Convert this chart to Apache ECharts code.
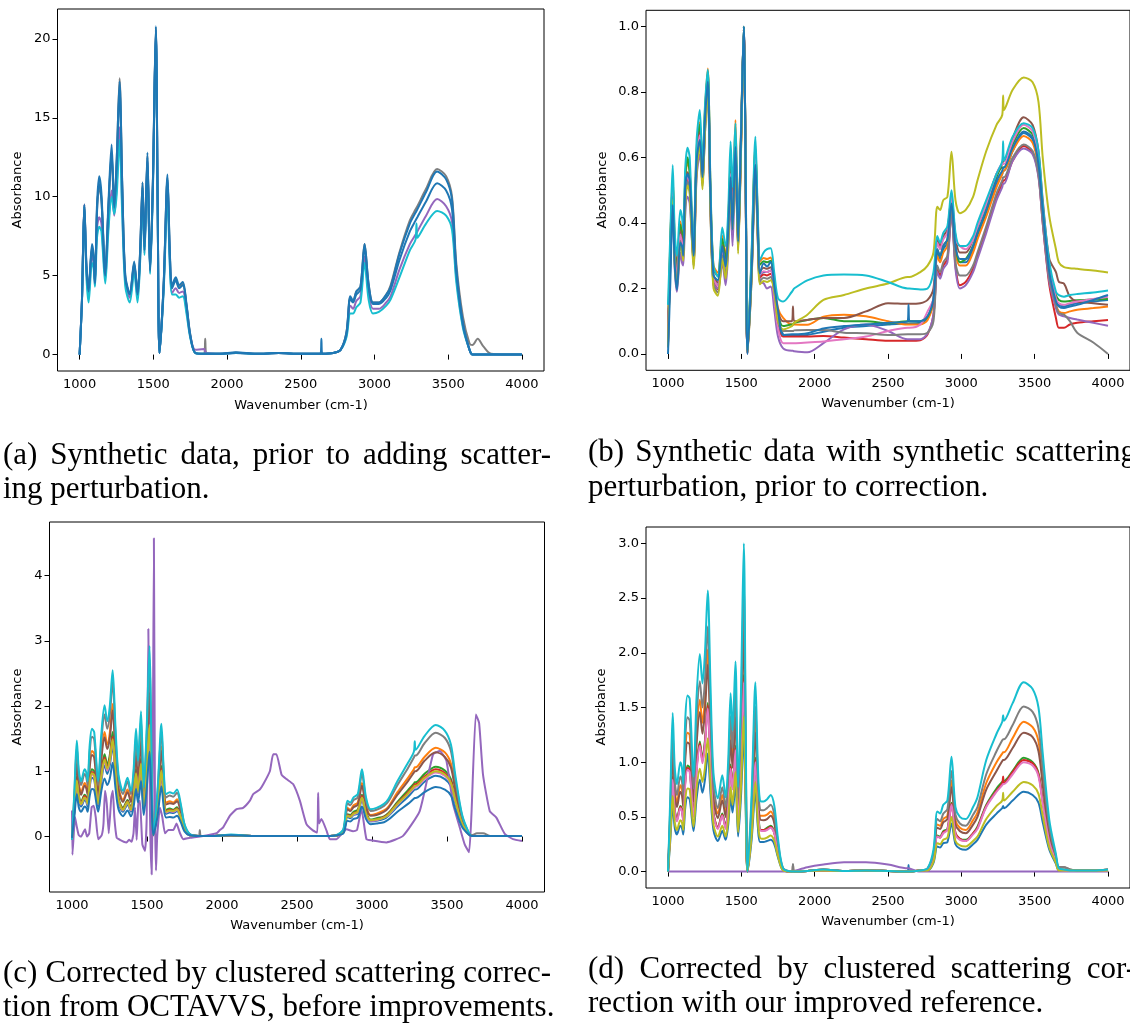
<!DOCTYPE html>
<html><head><meta charset="utf-8">
<script src="https://cdn.jsdelivr.net/npm/echarts@6/dist/echarts.min.js"></script>
<style>html,body{margin:0;padding:0;background:#fff}#chart{width:1130px;height:1023px}</style>
</head><body><div id="chart"></div>
<script>
// Shared wavenumber grid (cm-1) for the spectra
const WN = [
1000,1016,1032,1046,1061,1084,1095,1104,1118,1133,
1148,1174,1195,1217,1235,1252,1271,1290,1310,1340,
1370,1393,1410,1427,1440,1460,1478,1497,1517,1530,
1542,1570,1596,1612,1627,1652,1675,1700,1725,1750,
1785,1845,1852,1860,1950,2060,2200,2350,2500,2634,
2640,2646,2720,2770,2810,2836,2855,2877,2905,2933,
2960,2990,3030,3080,3110,3170,3240,3279,3285,3291,
3350,3425,3486,3526,3555,3600,3645,3665,3700,3740,
3790,3900,4000];

const X_TICKS = [1000,1500,2000,2500,3000,3500,4000];

// (a) synthetic spectra before scattering
const aGray = [
0,3.5,9.5,5.6,4.1,6.8,6.2,4.6,9.2,10.6,
9.8,5.1,9.2,12.6,9.3,12.4,17.5,10.4,4.9,3.8,
5.8,3.8,6.4,10.9,6.7,12.6,5.3,10.9,20.7,9.0,
0.1,4.4,11.2,6.4,4.3,4.8,4.3,4.5,3.1,1.3,
0.1,0.05,1.0,0.05,0.05,0.12,0.05,0.1,0.05,0.05,
0.05,0.05,0.1,0.3,1.4,3.6,3.4,4.0,4.3,7.0,
4.5,3.3,3.3,3.8,4.4,6.5,8.5,9.2,9.3,9.4,
10.5,11.75,11.3,10.0,5.8,2.4,0.7,0.6,1.0,0.5,
0.05,0,0];
const aPurple = [
0,3.5,9.5,5.3,3.7,6.4,5.8,4.4,8.0,8.7,
8.3,4.8,8.2,10.4,8.8,10.8,14.4,9.0,4.6,3.6,
5.5,3.6,6.0,10.2,6.4,12.2,5.2,10.6,20.5,8.8,
0.1,4.2,10.6,5.9,3.9,4.2,3.9,4.0,2.8,1.2,
0.3,0.35,0.2,0.1,0.05,0.1,0.05,0.1,0.05,0.05,
0.05,0.05,0.1,0.3,1.2,3.1,2.9,3.4,3.7,6.2,
3.9,2.9,2.9,3.3,3.7,5.4,7.0,7.6,7.7,7.8,
8.8,9.85,9.4,8.4,4.9,1.8,0.3,0,0,0,
0,0,0];
const aCyan = [
0,3.4,9.4,5.0,3.3,5.8,5.5,4.3,7.4,8.1,
7.8,4.5,7.8,10.0,8.9,10.2,13.6,8.6,4.3,3.3,
5.2,3.3,5.8,9.8,6.3,12.0,5.1,10.4,20.3,8.7,
0.1,4.0,10.0,5.6,3.8,3.8,3.6,3.7,2.6,1.1,
0.1,0.05,0.05,0.05,0.05,0.1,0.05,0.1,0.05,0.05,
0.05,0.05,0.1,0.3,1.1,2.6,2.6,3.0,3.3,5.8,
3.5,2.6,2.7,3.1,3.5,4.9,6.6,7.3,8.3,7.4,
8.3,9.1,8.8,7.9,4.6,1.7,0.3,0,0,0,
0,0,0];
const aBlueAlt = [
0,3.4,9.4,5.5,4.0,6.7,6.0,4.5,9.0,10.8,
9.8,5.0,9.2,12.8,9.3,12.0,16.8,10.2,4.8,3.8,
5.7,3.8,6.3,10.6,6.6,12.5,5.3,10.8,20.6,8.9,
0.1,4.4,11.1,6.3,4.2,4.7,4.2,4.4,3.1,1.2,
0.1,0.05,0.05,0.05,0.05,0.12,0.05,0.1,0.05,0.05,
0.05,0.05,0.1,0.3,1.3,3.5,3.3,3.8,4.1,6.8,
4.3,3.2,3.2,3.6,4.1,6.0,7.8,8.5,8.6,8.7,
9.7,10.85,10.4,9.2,5.2,1.9,0.3,0,0,0,
0,0,0];
const aBlue = [
0,3.5,9.5,5.8,4.2,7.0,6.3,4.6,9.5,11.3,
10.2,5.2,9.5,13.3,9.5,12.5,17.3,10.5,5.0,3.9,
5.9,3.9,6.5,10.9,6.8,12.8,5.4,11.0,20.8,9.0,
0.1,4.5,11.4,6.5,4.4,4.9,4.4,4.6,3.2,1.3,
0.1,0.05,0.05,0.05,0.05,0.15,0.05,0.1,0.05,0.05,
1.0,0.05,0.1,0.3,1.4,3.7,3.4,4.0,4.3,7.0,
4.5,3.3,3.3,3.8,4.3,6.4,8.3,9.0,9.1,9.2,
10.3,11.6,11.1,9.8,5.5,2.0,0.3,0,0,0,
0,0,0];

// (b) spectra with scattering, before correction
const bBlueAlt = [
.02,.30,.49,.30,.23,.36,.34,.31,.49,.54,
.52,.29,.58,.66,.53,.70,.83,.46,.23,.21,
.32,.26,.36,.55,.41,.62,.335,.63,1.0,.51,
.005,.26,.59,.38,.24,.25,.25,.255,.20,.12,
.06,.055,.055,.056,.058,.068,.08,.085,.09,.093,
.093,.093,.095,.11,.16,.31,.29,.32,.34,.45,
.32,.28,.28,.32,.36,.43,.52,.55,.56,.56,
.62,.675,.655,.575,.43,.25,.16,.15,.145,.15,
.155,.16,.165];
const bOrange = [
.09,.35,.54,.345,.275,.405,.38,.355,.53,.585,
.56,.33,.625,.708,.573,.745,.872,.50,.271,.248,
.361,.30,.40,.59,.45,.715,.376,.67,.99,.55,
.01,.30,.637,.42,.283,.293,.29,.295,.22,.14,
.11,.09,.09,.09,.089,.114,.12,.115,.10,.09,
.09,.09,.09,.104,.16,.30,.28,.31,.33,.45,
.31,.27,.27,.31,.35,.42,.51,.55,.56,.56,
.62,.666,.645,.57,.43,.24,.15,.13,.125,.13,
.135,.14,.145];
const bGreen = [
.05,.34,.53,.335,.265,.395,.37,.345,.54,.60,
.55,.32,.615,.70,.563,.735,.862,.49,.261,.238,
.351,.29,.39,.58,.44,.658,.366,.66,1.0,.54,
.01,.29,.627,.41,.273,.283,.28,.285,.20,.12,
.085,.09,.09,.095,.104,.11,.10,.10,.094,.10,
.10,.10,.10,.114,.17,.32,.30,.33,.35,.46,
.33,.28,.29,.33,.37,.44,.54,.57,.57,.57,
.64,.69,.67,.59,.45,.26,.18,.165,.16,.162,
.164,.166,.168];
const bRed = [
.03,.30,.49,.295,.225,.355,.33,.305,.48,.535,
.51,.28,.575,.658,.523,.695,.822,.45,.221,.198,
.311,.25,.35,.54,.40,.618,.326,.62,.99,.50,
.003,.25,.587,.37,.233,.243,.24,.245,.18,.09,
.053,.053,.053,.053,.053,.055,.05,.045,.04,.04,
.04,.04,.042,.06,.12,.26,.24,.27,.29,.43,
.27,.21,.22,.26,.30,.38,.48,.52,.53,.53,
.59,.635,.615,.545,.40,.21,.11,.08,.08,.09,
.095,.10,.104];
const bPurple = [
.06,.27,.45,.26,.19,.31,.28,.27,.43,.48,
.46,.28,.54,.61,.52,.674,.817,.43,.216,.20,
.277,.21,.31,.47,.33,.572,.323,.63,.99,.49,
0,.23,.55,.35,.22,.216,.20,.206,.134,.053,
.017,.01,.01,.008,.005,.033,.075,.09,.07,.045,
.045,.045,.045,.063,.12,.25,.23,.26,.28,.43,
.26,.20,.21,.25,.29,.37,.47,.51,.52,.52,
.59,.628,.61,.54,.40,.22,.14,.12,.115,.11,
.105,.095,.086];
const bBrown = [
.04,.32,.51,.315,.245,.375,.35,.325,.50,.555,
.53,.30,.595,.678,.543,.715,.842,.47,.241,.218,
.331,.27,.37,.56,.42,.638,.346,.64,1.0,.52,
.006,.27,.607,.39,.253,.263,.26,.265,.20,.13,
.10,.10,.145,.10,.104,.11,.11,.13,.155,.153,
.153,.153,.155,.165,.20,.35,.33,.36,.38,.48,
.36,.31,.31,.35,.39,.46,.55,.58,.59,.59,
.66,.723,.70,.62,.47,.29,.25,.22,.215,.175,
.16,.155,.15];
const bPink = [
.03,.31,.50,.305,.235,.365,.34,.315,.49,.545,
.52,.29,.585,.668,.533,.705,.832,.46,.231,.208,
.321,.26,.36,.55,.41,.628,.336,.63,.99,.51,
.005,.26,.597,.38,.243,.253,.25,.255,.17,.08,
.033,.033,.033,.033,.035,.038,.045,.053,.07,.08,
.08,.08,.09,.13,.17,.34,.32,.35,.37,.48,
.35,.33,.32,.35,.39,.46,.55,.58,.58,.58,
.65,.70,.68,.60,.45,.27,.17,.155,.15,.155,
.16,.168,.175];
const bGray = [
.03,.29,.48,.285,.215,.345,.32,.295,.47,.525,
.50,.27,.565,.648,.513,.685,.812,.44,.211,.188,
.301,.24,.34,.53,.39,.608,.316,.61,.99,.49,
.003,.24,.577,.36,.223,.233,.23,.235,.19,.10,
.07,.07,.07,.072,.073,.073,.065,.063,.058,.06,
.06,.06,.06,.065,.10,.27,.25,.28,.30,.44,
.28,.24,.24,.27,.31,.39,.49,.53,.54,.54,
.60,.64,.62,.55,.41,.23,.15,.125,.12,.10,
.065,.035,0];
const bOlive = [
.02,.28,.47,.275,.205,.335,.31,.285,.46,.515,
.49,.26,.555,.638,.503,.675,.802,.43,.201,.178,
.291,.23,.33,.52,.38,.598,.306,.60,.99,.48,
.003,.23,.567,.35,.213,.223,.22,.225,.19,.10,
.075,.085,.09,.095,.12,.165,.18,.20,.215,.235,
.235,.235,.25,.27,.31,.45,.44,.47,.48,.618,
.47,.43,.44,.48,.53,.62,.70,.73,.79,.745,
.807,.845,.83,.77,.60,.42,.32,.28,.265,.262,
.26,.255,.249];
const bCyan = [
.15,.37,.577,.37,.30,.44,.42,.38,.57,.63,
.60,.32,.65,.745,.567,.756,.868,.51,.267,.236,
.386,.33,.43,.649,.51,.705,.37,.65,1.0,.55,
.012,.31,.664,.43,.287,.31,.32,.323,.246,.17,
.16,.19,.195,.20,.225,.24,.243,.24,.22,.20,
.20,.20,.197,.20,.25,.36,.34,.37,.39,.50,
.37,.33,.33,.36,.40,.47,.55,.59,.65,.59,
.664,.705,.69,.62,.46,.28,.19,.18,.175,.18,
.183,.188,.194];
const bBlue = [
0,.22,.455,.27,.196,.34,.33,.30,.51,.55,
.53,.30,.59,.654,.54,.715,.832,.47,.24,.226,
.328,.267,.37,.54,.38,.633,.343,.65,1.0,.51,
0,.25,.577,.38,.246,.277,.267,.282,.206,.134,
.058,.06,.06,.06,.063,.078,.085,.09,.095,.10,
.15,.10,.10,.115,.17,.32,.30,.33,.35,.46,
.33,.29,.29,.33,.37,.44,.53,.56,.57,.57,
.63,.68,.66,.58,.44,.25,.16,.145,.14,.145,
.15,.165,.18];

// (c) corrected by clustered scattering correction (OCTAVVS)
const cBlueAlt = [
-.03,.38,.80,.54,.46,.56,.53,.46,.76,.90,
.87,.46,.84,1.09,.96,1.09,1.39,.91,.52,.38,
.49,.38,.54,.90,.63,1.04,.41,.87,1.59,.71,
.02,.38,.94,.54,.35,.37,.36,.39,.27,.10,
.02,.01,.01,.01,.01,.02,.01,.01,.01,.01,
.01,.01,.01,.02,.07,.30,.28,.33,.35,.56,
.33,.23,.24,.27,.32,.46,.61,.71,.72,.72,
.84,.93,.88,.77,.52,.18,.03,.01,.01,.01,
.01,.01,.01];
const cOrange = [
-.04,.56,1.17,.80,.68,.82,.78,.68,1.11,1.31,
1.27,.68,1.23,1.60,1.41,1.59,2.03,1.33,.76,.56,
.72,.56,.80,1.31,.92,1.53,.60,1.27,2.32,1.03,
.03,.56,1.38,.80,.52,.54,.52,.57,.40,.15,
.03,.01,.01,.01,.01,.02,.01,.01,.01,.01,
.01,.01,.01,.02,.10,.44,.41,.48,.52,.82,
.48,.33,.35,.40,.46,.68,.90,1.03,1.06,1.06,
1.22,1.36,1.29,1.12,.76,.27,.05,.01,.01,.01,
.01,.01,.01];
const cGreen = [
-.03,.44,.92,.63,.53,.64,.61,.53,.88,1.03,
1.0,.53,.97,1.26,1.11,1.25,1.60,1.05,.59,.44,
.56,.44,.63,1.03,.73,1.20,.47,1.0,1.83,.81,
.03,.44,1.08,.63,.41,.43,.41,.45,.31,.12,
.03,.01,.01,.01,.01,.02,.01,.01,.01,.01,
.01,.01,.01,.02,.08,.34,.33,.38,.41,.64,
.38,.26,.28,.31,.36,.53,.71,.81,.83,.83,
.96,1.07,1.01,.88,.59,.21,.04,.01,.01,.01,
.01,.01,.01];
const cRed = [
-.03,.42,.88,.60,.51,.62,.59,.51,.84,.99,
.96,.51,.93,1.21,1.06,1.20,1.53,1.0,.57,.42,
.54,.42,.60,.99,.70,1.15,.45,.96,1.75,.78,
.02,.42,1.04,.60,.39,.41,.40,.43,.30,.11,
.02,.01,.01,.01,.01,.02,.01,.01,.01,.01,
.01,.01,.01,.02,.07,.33,.31,.36,.39,.62,
.36,.25,.26,.30,.35,.51,.68,.78,.80,.80,
.92,1.03,.97,.85,.57,.20,.04,.01,.01,.01,
.01,.01,.01];
const cBrown = [
-.04,.53,1.11,.76,.64,.78,.74,.64,1.06,1.25,
1.21,.64,1.17,1.52,1.34,1.51,1.93,1.26,.72,.53,
.68,.53,.76,1.25,.88,1.45,.57,1.21,2.20,.98,
.03,.53,1.31,.76,.49,.51,.50,.54,.38,.14,
.03,.01,.01,.01,.01,.02,.01,.01,.01,.01,
.01,.01,.01,.02,.09,.42,.39,.45,.49,.78,
.45,.32,.33,.38,.44,.64,.85,.98,1.0,1.0,
1.16,1.29,1.22,1.06,.72,.26,.05,.01,.01,.01,
.01,.01,.01];
const cPink = [
-.03,.40,.84,.57,.49,.59,.56,.49,.80,.95,
.92,.49,.89,1.15,1.01,1.15,1.46,.96,.54,.40,
.52,.40,.57,.95,.66,1.10,.43,.92,1.67,.74,
.02,.40,.99,.57,.37,.39,.38,.41,.29,.11,
.02,.01,.01,.01,.01,.02,.01,.01,.01,.01,
.01,.01,.01,.02,.07,.32,.30,.34,.37,.59,
.34,.24,.25,.29,.33,.49,.65,.74,.76,.76,
.88,.98,.93,.81,.54,.19,.03,.01,.01,.01,
.01,.01,.01];
const cGray = [
-.05,.65,1.37,.93,.79,.96,.91,.79,1.30,1.53,
1.49,.79,1.44,1.87,1.65,1.86,2.37,1.55,.88,.65,
.84,.65,.93,1.53,1.08,1.79,.70,1.49,2.72,1.21,
.04,.65,1.61,.93,.60,.63,.61,.67,.47,.18,
.04,.01,.10,.01,.01,.02,.01,.01,.01,.01,
.01,.01,.01,.03,.11,.51,.48,.56,.60,.96,
.56,.39,.41,.47,.54,.79,1.05,1.21,1.24,1.24,
1.43,1.59,1.51,1.31,.88,.32,.06,.02,.05,.05,
.01,.01,.01];
const cOlive = [
-.03,.41,.86,.59,.50,.60,.57,.50,.82,.97,
.94,.50,.91,1.18,1.04,1.17,1.49,.98,.56,.41,
.53,.41,.59,.97,.68,1.12,.44,.94,1.71,.76,
.02,.41,1.01,.59,.38,.40,.39,.42,.29,.11,
.02,.01,.01,.01,.01,.02,.01,.01,.01,.01,
.01,.01,.01,.02,.07,.32,.30,.35,.38,.60,
.35,.25,.26,.29,.34,.50,.66,.76,.78,.78,
.90,1.0,.95,.82,.56,.20,.04,.01,.01,.01,
.01,.01,.01];
const cCyan = [
-.05,.7,1.47,1.0,.85,1.03,.98,.85,1.4,1.65,
1.6,.85,1.55,2.01,1.77,2.0,2.55,1.67,.95,.70,
.90,.70,1.0,1.65,1.16,1.92,.75,1.6,2.92,1.3,
.04,.7,1.73,1.0,.65,.68,.66,.72,.5,.19,
.04,.01,.01,.01,.01,.03,.01,.01,.01,.01,
.01,.01,.01,.03,.12,.55,.52,.6,.65,1.03,
.6,.42,.44,.5,.58,.85,1.13,1.3,1.46,1.33,
1.54,1.71,1.62,1.41,.95,.34,.06,.01,.01,.01,
.01,.01,.01];
const cBlue = [
-.02,.31,.65,.44,.38,.46,.44,.38,.62,.73,
.71,.38,.69,.89,.79,.89,1.13,.74,.42,.31,
.40,.31,.44,.73,.52,.85,.33,.71,1.30,.58,
.02,.31,.77,.44,.29,.30,.29,.32,.22,.08,
.02,.01,.01,.01,.01,.02,.01,.01,.01,.01,
.01,.01,.01,.02,.05,.24,.23,.27,.29,.46,
.27,.19,.20,.22,.26,.38,.50,.58,.59,.59,
.68,.76,.72,.63,.42,.15,.03,.01,.01,.01,
.01,.01,.01];
// the one spectrum that the correction distorts, on its own grid
const cPurpleWn = [
1000,1003,1012,1020,1032,1045,1060,1075,1087,1100,
1115,1131,1145,1158,1175,1198,1210,1220,1232,1245,
1262,1272,1282,1298,1320,1345,1364,1380,1397,1410,
1420,1431,1442,1453,1469,1487,1498,1509,1520,1531,
1537,1546,1553,1560,1568,1586,1602,1620,1642,1675,
1697,1720,1742,1786,1853,1964,1986,2008,2053,2097,
2141,2186,2208,2252,2275,2319,2341,2363,2397,2430,
2475,2519,2563,2608,2635,2641,2647,2663,2697,2719,
2763,2830,2874,2900,2930,2963,3000,3096,3207,3318,
3407,3452,3496,3540,3585,3618,3647,3663,3692,3714,
3740,3785,3829,3885,3940,4000];
const cPurpleAbs = [
.40,-.28,.05,.30,.15,.02,0,.06,.11,0,
.05,.45,.47,.3,-.04,.02,.2,.7,.5,.05,
.6,.7,.3,-.02,-.05,-.08,-.09,-.05,-.08,.05,
.44,-.05,.5,.55,-.12,-.22,.3,3.18,.34,-.58,
.5,4.57,.5,-.52,0,.44,.3,.05,.1,.1,
.2,.05,-.04,-.02,0,.05,.1,.14,.32,.42,
.44,.55,.65,.72,.8,1.0,1.26,1.26,.95,.88,
.8,.55,.19,.09,.06,.67,.2,.27,.09,-.04,
-.04,.11,.08,.1,.42,-.04,-.06,-.09,.01,.39,
1.26,1.31,1.16,.5,.14,-.12,-.24,.34,1.87,1.74,
.95,.39,.29,.04,-.04,-.07];

// (d) corrected with the improved reference
const dBlue = [
0,.29,.61,.40,.34,.42,.40,.34,.59,.68,
.66,.37,.67,.84,.72,.84,1.08,.71,.38,.28,
.37,.29,.42,.68,.54,.81,.32,.67,1.26,.55,
0,.29,.73,.42,.27,.27,.28,.29,.25,.13,
.01,0,0,0,.005,.01,.005,.01,.005,0,
.06,0,.01,.01,.08,.23,.22,.26,.27,.44,
.25,.21,.20,.25,.29,.43,.53,.58,.60,.58,
.65,.73,.70,.63,.45,.20,.07,.01,.01,.01,
.01,.01,.01];
const dOrange = [
0,.55,1.15,.75,.63,.79,.75,.63,1.11,1.27,
1.25,.69,1.26,1.57,1.36,1.58,2.03,1.34,.71,.53,
.70,.54,.79,1.29,1.02,1.52,.61,1.26,2.37,1.03,
0,.55,1.37,.79,.51,.51,.52,.55,.47,.24,
.02,0,0,0,.005,.02,.005,.01,.005,0,
0,0,.01,.02,.16,.43,.42,.48,.51,.83,
.47,.40,.38,.47,.54,.81,1.0,1.08,1.09,1.09,
1.22,1.37,1.32,1.19,.85,.37,.13,.02,.02,.01,
.01,.01,.02];
const dGreen = [
0,.42,.87,.57,.48,.60,.57,.48,.84,.97,
.95,.52,.96,1.19,1.03,1.20,1.54,1.01,.54,.40,
.53,.41,.60,.98,.77,1.15,.46,.96,1.80,.78,
0,.42,1.04,.60,.39,.38,.40,.42,.36,.18,
.02,0,0,0,.005,.01,.005,.01,.005,0,
0,0,.01,.02,.12,.33,.32,.37,.39,.63,
.35,.30,.29,.35,.41,.61,.76,.82,.83,.83,
.92,1.04,1.0,.90,.65,.28,.10,.02,.01,.01,
.01,.01,.01];
const dRed = [
0,.41,.86,.56,.47,.59,.56,.47,.83,.95,
.93,.51,.94,1.17,1.01,1.18,1.52,1.0,.53,.40,
.52,.40,.59,.96,.76,1.13,.45,.94,1.77,.77,
0,.41,1.02,.59,.38,.38,.39,.41,.35,.18,
.02,0,0,0,.005,.01,.005,.01,.005,0,
0,0,.01,.02,.12,.32,.31,.36,.38,.62,
.35,.30,.28,.35,.40,.60,.74,.81,.87,.81,
.91,1.02,.99,.89,.64,.28,.09,.02,.01,.01,
.01,.01,.01];
const dPurple = [
0,0,0,0,0,0,0,0,0,0,
0,0,0,0,0,0,0,0,0,0,
0,0,0,0,0,0,0,0,0,0,
0,0,0,0,0,0,0,0,0,0,
0,.002,.003,.005,.04,.065,.085,.085,.065,.03,
.03,.028,0,0,0,0,0,0,0,0,
0,0,0,0,0,0,0,0,0,0,
0,0,0,0,0,0,0,0,0,0,
0,0,0];
const dBrown = [
0,.51,1.06,.70,.59,.73,.70,.59,1.03,1.18,
1.16,.64,1.17,1.46,1.26,1.47,1.89,1.24,.66,.49,
.65,.50,.73,1.20,.95,1.41,.57,1.17,2.20,.95,
0,.51,1.27,.73,.48,.47,.48,.51,.44,.22,
.02,0,.06,0,.005,.02,.005,.01,.005,0,
0,0,.01,.02,.15,.40,.39,.45,.48,.77,
.43,.37,.35,.43,.50,.75,.92,1.01,1.02,1.02,
1.13,1.27,1.23,1.10,.79,.34,.12,.04,.04,.02,
.01,.01,.02];
const dPink = [
0,.40,.84,.55,.46,.58,.55,.46,.81,.93,
.91,.50,.92,1.15,.99,1.16,1.49,.98,.52,.39,
.51,.39,.58,.94,.75,1.11,.45,.92,1.73,.75,
0,.40,1.0,.58,.38,.37,.38,.40,.35,.17,
.02,0,0,0,.005,.01,.005,.01,.005,0,
0,0,.01,.02,.12,.32,.31,.35,.38,.61,
.34,.29,.28,.34,.39,.59,.73,.79,.80,.80,
.89,1.0,.97,.87,.62,.27,.09,.02,.01,.01,
.01,.01,.01];
const dGray = [
0,.61,1.27,.83,.70,.87,.83,.70,1.22,1.41,
1.38,.76,1.40,1.74,1.50,1.75,2.24,1.48,.79,.58,
.77,.59,.87,1.42,1.13,1.68,.67,1.40,2.62,1.13,
0,.61,1.51,.87,.57,.56,.58,.61,.52,.26,
.03,0,.07,0,.005,.02,.005,.01,.005,0,
0,0,.01,.03,.17,.48,.46,.53,.57,.92,
.52,.44,.42,.52,.59,.89,1.10,1.20,1.21,1.21,
1.34,1.51,1.46,1.31,.94,.41,.14,.04,.04,.02,
.01,.01,.02];
const dOlive = [
0,.33,.69,.45,.38,.47,.45,.38,.66,.76,
.75,.41,.76,.94,.82,.95,1.22,.80,.43,.32,
.42,.32,.47,.77,.61,.91,.36,.76,1.42,.62,
0,.33,.82,.47,.31,.30,.31,.33,.28,.14,
.01,0,0,0,.005,.01,.005,.01,.005,0,
0,0,.01,.01,.09,.26,.25,.29,.31,.50,
.28,.24,.23,.28,.32,.48,.60,.65,.72,.65,
.73,.82,.79,.71,.51,.22,.08,.01,.01,.01,
.01,.01,.01];
const dCyan = [
0,.7,1.45,.95,.80,1.0,.95,.80,1.4,1.61,
1.58,.87,1.6,1.99,1.72,2.0,2.57,1.69,.9,.67,
.88,.68,1.0,1.63,1.29,1.92,.77,1.6,3.0,1.3,
0,.7,1.73,1.0,.65,.64,.66,.70,.6,.3,
.03,0,0,0,.005,.02,.005,.01,.005,0,
0,0,.01,.03,.2,.55,.53,.61,.65,1.05,
.59,.5,.48,.59,.68,1.02,1.26,1.37,1.43,1.38,
1.54,1.73,1.67,1.5,1.08,.47,.16,.03,.02,.01,
.01,.01,.02];

const Y_TICKS_A = [0,5,10,15,20];
const Y_TICKS_B = [0,0.2,0.4,0.6,0.8,1.0];
const Y_TICKS_C = [0,1,2,3,4];
const Y_TICKS_D = [0,0.5,1.0,1.5,2.0,2.5,3.0];

const CAPTIONS = [
  ['(a) Synthetic data, prior to adding scatter-', 'ing perturbation.'],
  ['(b) Synthetic data with synthetic scattering', 'perturbation, prior to correction.'],
  ['(c) Corrected by clustered scattering correc-', 'tion from OCTAVVS, before improvements.'],
  ['(d) Corrected by clustered scattering cor-', 'rection with our improved reference.']
];

// ---------- presentation ----------
const COL = {blue:'#1f77b4', orange:'#ff7f0e', green:'#2ca02c', red:'#d62728', purple:'#9467bd',
  brown:'#8c564b', pink:'#e377c2', gray:'#7f7f7f', olive:'#bcbd22', cyan:'#17becf'};

const GRIDS = [
  {left:57.5, top:9, width:486.5, height:362},
  {left:646, top:10.3, width:484, height:360},
  {left:49.5, top:522, width:495, height:370},
  {left:646, top:527, width:484, height:361}
];
const YRANGE = [[-1.04, 21.89, Y_TICKS_A, 0], [-0.05, 1.05, Y_TICKS_B, 1], [-0.85, 4.82, Y_TICKS_C, 0], [-0.15, 3.15, Y_TICKS_D, 1]];

const TICK_FONT = 'DejaVu Sans';
function xAxis(gi) {
  return {type:'value', gridIndex:gi, min:850, max:4150,
    axisLine:{show:false},
    axisTick:{show:true, customValues:X_TICKS, length:5, lineStyle:{color:'#000', width:1}},
    axisLabel:{show:true, customValues:X_TICKS, color:'#000', fontSize:13, fontFamily:TICK_FONT, margin:7,
      formatter: v => String(Math.round(v))},
    splitLine:{show:false}};
}
function yAxis(gi) {
  const [mn, mx, ticks, dg] = YRANGE[gi];
  return {type:'value', gridIndex:gi, min:mn, max:mx,
    axisLine:{show:false},
    axisTick:{show:true, customValues:ticks, length:5, lineStyle:{color:'#000', width:1}},
    axisLabel:{show:true, customValues:ticks, color:'#000', fontSize:13, fontFamily:TICK_FONT, margin:7,
      formatter: v => Number(v).toFixed(dg)},
    splitLine:{show:false}};
}
function line(gi, color, ys, xs, smooth) {
  xs = xs || WN;
  return {type:'line', xAxisIndex:gi, yAxisIndex:gi, data:xs.map((x, i) => [x, ys[i]]),
    symbol:'none', showSymbol:false, smooth: smooth == null ? 0.3 : smooth, silent:true,
    lineStyle:{color, width:2}, itemStyle:{color}, emphasis:{disabled:true}};
}

const series = [
  line(0, COL.gray, aGray), line(0, COL.purple, aPurple), line(0, COL.cyan, aCyan),
  line(0, COL.blue, aBlueAlt), line(0, COL.blue, aBlue),

  line(1, COL.blue, bBlueAlt), line(1, COL.orange, bOrange), line(1, COL.green, bGreen),
  line(1, COL.red, bRed), line(1, COL.purple, bPurple), line(1, COL.brown, bBrown),
  line(1, COL.pink, bPink), line(1, COL.gray, bGray), line(1, COL.olive, bOlive),
  line(1, COL.cyan, bCyan), line(1, COL.blue, bBlue),

  line(2, COL.blue, cBlueAlt), line(2, COL.orange, cOrange), line(2, COL.green, cGreen),
  line(2, COL.red, cRed), line(2, COL.purple, cPurpleAbs, cPurpleWn, 0.15), line(2, COL.brown, cBrown),
  line(2, COL.pink, cPink), line(2, COL.gray, cGray), line(2, COL.olive, cOlive),
  line(2, COL.cyan, cCyan), line(2, COL.blue, cBlue),

  line(3, COL.blue, dBlue), line(3, COL.orange, dOrange), line(3, COL.green, dGreen),
  line(3, COL.red, dRed), line(3, COL.purple, dPurple), line(3, COL.brown, dBrown),
  line(3, COL.pink, dPink), line(3, COL.gray, dGray), line(3, COL.olive, dOlive),
  line(3, COL.cyan, dCyan)
];

// axis titles and captions
const graphic = [];
const AX_FONT = '13px "DejaVu Sans"';
[[18, 190], [602.7, 190], [18, 707], [602, 707]].forEach(([x, y]) => graphic.push(
  {type:'text', x, y, rotation:Math.PI/2, silent:true,
   style:{text:'Absorbance', font:AX_FONT, fill:'#000', align:'center', verticalAlign:'middle'}}));
[[301, 405.5], [888, 404], [297, 925.7], [888, 921.7]].forEach(([x, y]) => graphic.push(
  {type:'text', x, y, silent:true,
   style:{text:'Wavenumber (cm-1)', font:AX_FONT, fill:'#000', align:'center', verticalAlign:'middle'}}));

const CAP_FONT = '31px "Liberation Serif"';
const measure = document.createElement('canvas').getContext('2d');
measure.font = CAP_FONT;
function justified(text, x0, y, width) {
  const words = text.split(' ');
  const ws = words.map(w => measure.measureText(w).width);
  const gap = (width - ws.reduce((a, b) => a + b, 0)) / (words.length - 1);
  let x = x0;
  words.forEach((w, i) => {
    graphic.push({type:'text', x, y, silent:true,
      style:{text:w, font:CAP_FONT, fill:'#000', align:'left', verticalAlign:'middle'}});
    x += ws[i] + gap;
  });
}
function plain(text, x, y) {
  graphic.push({type:'text', x, y, silent:true,
    style:{text, font:CAP_FONT, fill:'#000', align:'left', verticalAlign:'middle'}});
}
const CAP_POS = [[3, 456, 490], [588, 453, 488], [3, 974, 1008], [588, 970, 1004]];
CAPTIONS.forEach((c, i) => {
  const [x, y1, y2] = CAP_POS[i];
  justified(c[0], x, y1, 548);
  plain(c[1], x, y2);
});

const chart = echarts.init(document.getElementById('chart'), null, {renderer:'canvas'});
chart.setOption({
  animation:false,
  backgroundColor:'#fff',
  grid: GRIDS.map(g => Object.assign({show:true, borderColor:'#000', borderWidth:1, containLabel:false, outerBoundsMode:'none'}, g)),
  xAxis: [0,1,2,3].map(xAxis),
  yAxis: [0,1,2,3].map(yAxis),
  series,
  graphic
});
</script></body></html>
